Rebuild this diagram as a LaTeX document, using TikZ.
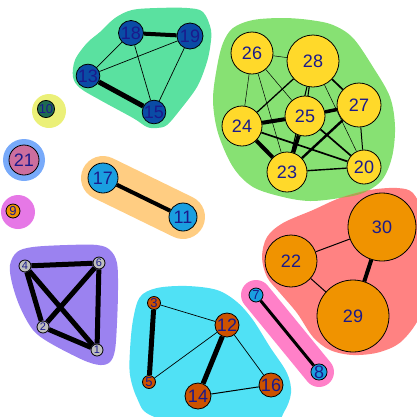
\documentclass[tikz,border=0pt]{standalone}
\usepackage{fontspec}
\setmainfont{Liberation Sans}
\pgfdeclarelayer{hulls}
\pgfdeclarelayer{edges}
\pgfsetlayers{hulls,edges,main}
\definecolor{cyellowN}{HTML}{FFD92A}
\definecolor{corangeN}{HTML}{F09300}
\definecolor{cblueN}{HTML}{1A9FE0}
\definecolor{cnavyN}{HTML}{0A4CA5}
\definecolor{crustN}{HTML}{CC5200}
\definecolor{cgreyN}{HTML}{BEBEBE}
\definecolor{cpinkN}{HTML}{CC6E9E}
\definecolor{cdkgreenN}{HTML}{1E6B50}
\definecolor{clabel}{HTML}{1A1A8C}
\definecolor{hteal}{HTML}{5AE1A0}
\definecolor{hgreen}{HTML}{87E173}
\definecolor{hsalmon}{HTML}{FF8282}
\definecolor{holive}{HTML}{A6AA50}
\definecolor{hcyan}{HTML}{50E1F5}
\definecolor{hpink}{HTML}{FF80C8}
\definecolor{hpurple}{HTML}{9B82F0}
\definecolor{hblue}{HTML}{78AAFA}
\definecolor{hmagenta}{HTML}{E678E6}
\definecolor{hyellow}{HTML}{EBF078}
\definecolor{horange}{HTML}{FFCD82}
\tikzset{
  vx/.style={circle, draw=black, line width=0.8pt, inner sep=0pt, text=clabel, minimum size=#1},
  big/.style={font=\fontsize{18}{18}\selectfont},
  small/.style={font=\fontsize{11}{11}\selectfont},
  mid/.style={font=\fontsize{13}{13}\selectfont},
  hull/.style={line join=round, line cap=round},
  ethin/.style={draw=black, line width=0.7pt},
  emid/.style={draw=black, line width=1.7pt},
  ethick/.style={draw=black, line width=4pt},
}
\def\greenhull{plot[smooth cycle, tension=0.55] coordinates {(233,28) (253,20) (283,18) (310,20) (333,25) (353,38) (373,67) (390,97) (395,127) (392,157) (382,180) (363,193) (340,198) (310,201) (283,197) (253,187) (233,167) (218,133) (213,100) (217,67) (223,43)}}
\def\salmonhull{plot[smooth cycle, tension=0.55] coordinates {(340,198) (370,190) (397,188) (413,193) (422,215) (424,260) (422,310) (403,340) (380,352) (353,355) (330,350) (313,337) (297,313) (280,293) (267,277) (262,257) (267,237) (283,223) (313,210)}}
\begin{document}
\begin{tikzpicture}[x=1pt,y=-1pt]
\useasboundingbox (0,0) rectangle (417,416);
% nodes
\node[vx=25pt, fill=cnavyN, big] (n18) at (131,33) {18};
\node[vx=26pt, fill=cnavyN, big] (n19) at (190,36) {19};
\node[vx=18pt, fill=cnavyN, big] (n13) at (88,76) {13};
\node[vx=18pt, fill=cnavyN, big] (n15) at (154,112) {15};
\node[vx=11pt, fill=cdkgreenN] (n0) at (44,109) {};
\node[vx=11pt, fill=cdkgreenN, font=\fontsize{13}{13}\selectfont] (n10) at (46,109) {10};
\node[vx=42pt, fill=cyellowN, big] (n26) at (252,53) {26};
\node[vx=52pt, fill=cyellowN, big] (n28) at (313,61) {28};
\node[vx=40pt, fill=cyellowN, big] (n25) at (305,116) {25};
\node[vx=44pt, fill=cyellowN, big] (n27) at (359,105) {27};
\node[vx=40pt, fill=cyellowN, big] (n24) at (242,126) {24};
\node[vx=40pt, fill=cyellowN, big] (n23) at (287,172) {23};
\node[vx=34pt, fill=cyellowN, big] (n20) at (364,167) {20};
\node[vx=30pt, fill=cpinkN, big] (n21) at (24,160) {21};
\node[vx=14pt, fill=corangeN, mid] (n9) at (13,211) {9};
\node[vx=30pt, fill=cblueN, big] (n17) at (103,178) {17};
\node[vx=28pt, fill=cblueN, big] (n11) at (183,217) {11};
\node[vx=68pt, fill=corangeN, big] (n30) at (382,227) {30};
\node[vx=52pt, fill=corangeN, big] (n22) at (291,261) {22};
\node[vx=72pt, fill=corangeN, big] (n29) at (353,316) {29};
\node[vx=14pt, fill=cblueN, mid] (n7) at (256,295) {7};
\node[vx=16pt, fill=cblueN, big] (n8) at (319,372) {8};
\node[vx=12pt, fill=cgreyN, small] (n4) at (25,266) {4};
\node[vx=12pt, fill=cgreyN, small] (n6) at (99,263) {6};
\node[vx=12pt, fill=cgreyN, small] (n2) at (43,327) {2};
\node[vx=12pt, fill=cgreyN, small] (n1) at (97,350) {1};
\node[vx=13pt, fill=crustN, mid] (n3) at (154,303) {3};
\node[vx=24pt, fill=crustN, big] (n12) at (227,325) {12};
\node[vx=13pt, fill=crustN, mid] (n5) at (149,382) {5};
\node[vx=26pt, fill=crustN, big] (n14) at (198,396) {14};
\node[vx=24pt, fill=crustN, big] (n16) at (271,385) {16};
% hulls
\begin{pgfonlayer}{hulls}
\fill[hteal] plot[smooth cycle, tension=0.55] coordinates {(100,32) (115,18) (132,10) (157,8) (187,8) (203,12) (211,30) (210,48) (206,65) (197,87) (180,110) (167,125) (157,128) (147,127) (133,118) (100,100) (80,88) (73,77) (75,60) (87,43)};
\fill[hgreen] \greenhull;
\fill[hsalmon] \salmonhull;
\begin{scope}
\clip \greenhull;
\fill[holive] \salmonhull;
\end{scope}
\fill[hcyan] plot[smooth cycle, tension=0.55] coordinates {(140,297) (157,288) (187,286) (217,290) (237,302) (253,320) (270,347) (287,373) (291,393) (284,412) (270,425) (200,428) (150,415) (137,398) (130,375) (130,350) (133,320)};
\fill[hpurple] plot[smooth cycle, tension=0.55] coordinates {(17,252) (33,247) (67,245) (97,245) (110,250) (117,263) (118,290) (117,323) (115,350) (110,362) (100,365) (83,360) (50,343) (33,330) (20,307) (12,283) (10,265)};
\draw[hull, draw=horange, line width=44pt] (n17.center)--(n11.center);
\draw[hull, draw=hpink, line width=30pt] (n7.center)--(n8.center);
\fill[hblue, rounded corners=14pt] (24,135) -- (48,159) -- (24,184) -- (0,159) -- cycle;
\fill[hblue] (n21.center) circle[radius=21pt];
\fill[hmagenta] (18,212) circle[radius=17pt];
\fill[hyellow] (49,111) circle[radius=17pt];
\end{pgfonlayer}
% edges
\begin{pgfonlayer}{edges}
\draw[ethick] (n18) -- (n19);
\draw[ethick, line width=5pt] (n13) -- (n15);
\draw[ethin] (n18) -- (n13);
\draw[ethin] (n18) -- (n15);
\draw[ethin] (n19) -- (n13);
\draw[ethin] (n19) -- (n15);
\draw[ethin, line width=0.5pt] (n26) -- (n28);
\draw[ethin, line width=0.5pt] (n26) -- (n24);
\draw[ethin, line width=0.5pt] (n26) -- (n23);
\draw[ethin, line width=0.5pt] (n26) -- (n25);
\draw[ethin, line width=0.5pt] (n28) -- (n20);
\draw[emid, line width=1.3pt] (n28) -- (n24);
\draw[emid, line width=1.1pt] (n28) -- (n25);
\draw[emid, line width=1.1pt] (n28) -- (n23);
\draw[emid] (n28) -- (n27);
\draw[ethick] (n24) -- (n25);
\draw[ethick] (n24) -- (n23);
\draw[emid] (n24) -- (n20);
\draw[ethick] (n25) -- (n23);
\draw[emid] (n25) -- (n20);
\draw[ethick, line width=3.5pt] (n25) -- (n27);
\draw[emid, line width=2.4pt] (n27) -- (n23);
\draw[ethin, line width=1pt] (n27) -- (n20);
\draw[emid, line width=1.4pt] (n23) -- (n20);
\draw[ethin, line width=1pt] (n22) -- (n30);
\draw[ethin, line width=1pt] (n22) -- (n29);
\draw[ethick] (n30) -- (n29);
\draw[ethick, line width=5pt] (n3) -- (n5);
\draw[ethin] (n3) -- (n12);
\draw[ethin] (n5) -- (n12);
\draw[ethick, line width=5pt] (n12) -- (n14);
\draw[ethin] (n12) -- (n16);
\draw[ethin, line width=1pt] (n14) -- (n16);
\draw[ethick, line width=3pt] (n7) -- (n8);
\draw[ethick] (n17) -- (n11);
\draw[ethick, line width=5pt] (n4) -- (n6);
\draw[ethick, line width=5pt] (n4) -- (n2);
\draw[ethick, line width=5pt] (n4) -- (n1);
\draw[ethick, line width=5pt] (n6) -- (n2);
\draw[ethick, line width=5pt] (n6) -- (n1);
\draw[ethick, line width=5pt] (n2) -- (n1);
\end{pgfonlayer}
\end{tikzpicture}
\end{document}
